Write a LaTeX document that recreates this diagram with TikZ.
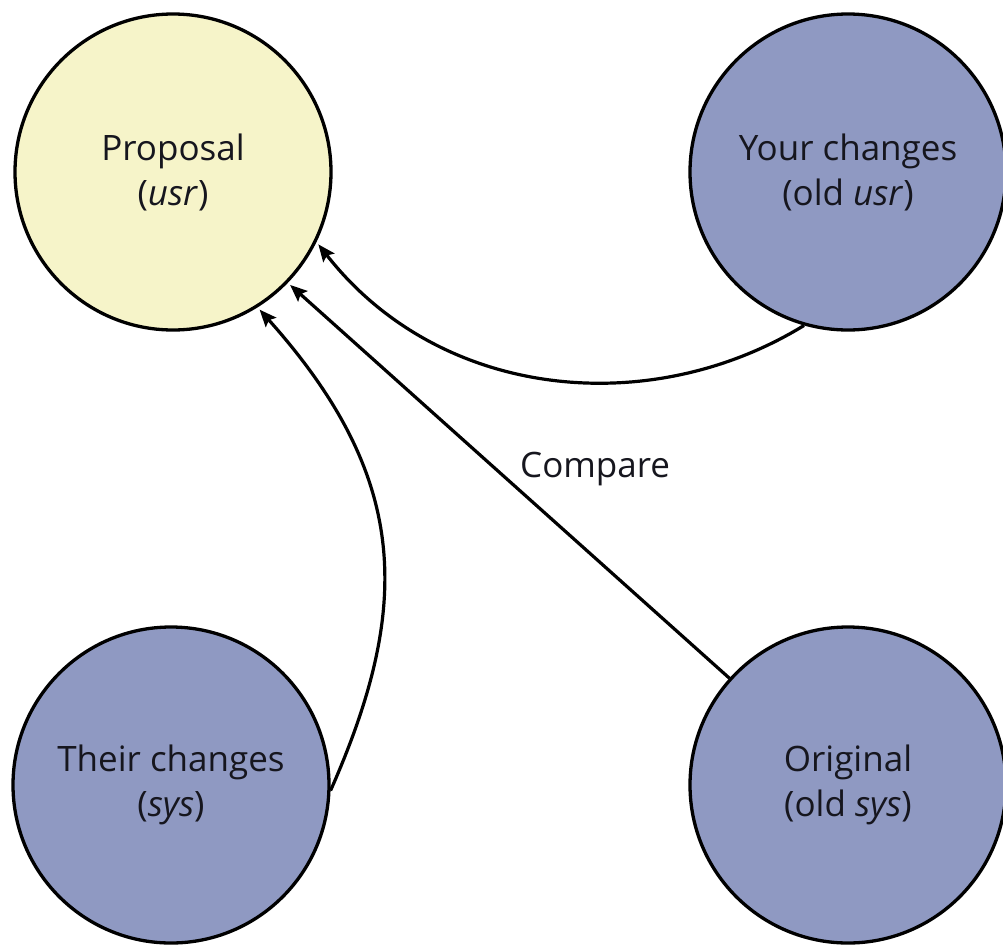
\documentclass[tikz,border=0pt]{standalone}
\usepackage{fontspec}
\setmainfont{Open Sans}
\usetikzlibrary{arrows.meta}
\definecolor{propfill}{RGB}{246,244,201}
\definecolor{verfill}{RGB}{143,153,194}
\definecolor{inktext}{RGB}{22,22,30}
\tikzset{
  version/.style={circle, draw=black, line width=3.3pt, minimum size=316pt,
    inner sep=0pt, align=center, text=inktext,
    font=\fontsize{35}{45}\selectfont},
  proposal/.style={version, fill=propfill},
  other/.style={version, fill=verfill},
  flow/.style={line width=3.2pt, draw=black,
    -{Stealth[length=17pt,width=14pt,inset=3pt]}, shorten >=3pt},
  tag/.style={inner sep=0pt, text=inktext, font=\fontsize{35}{45}\selectfont}
}
\begin{document}
\begin{tikzpicture}[x=1pt,y=-1pt]
\useasboundingbox (0,0) rectangle (1003,945);

% the four versions
\node[proposal] (prop)  at (173,172) {Proposal\\(\textit{usr})};
\node[other]    (your)  at (848,172) {Your changes\\(old \textit{usr})};
\node[other]    (their) at (171,785) {Their changes\\(\textit{sys})};
\node[other]    (orig)  at (848,785) {Original\\(old \textit{sys})};

% all three inputs feed the proposal
\draw[flow] (your.254) .. controls (650,420) and (440,400) .. (prop.334);
\draw[flow] (orig.138) -- (prop.316);
\draw[flow] (their.358) .. controls (412,606) and (410,478) .. (prop.302);

\node[tag, anchor=base west] (cmp) at (520,477) {Compare};
\end{tikzpicture}
\end{document}
